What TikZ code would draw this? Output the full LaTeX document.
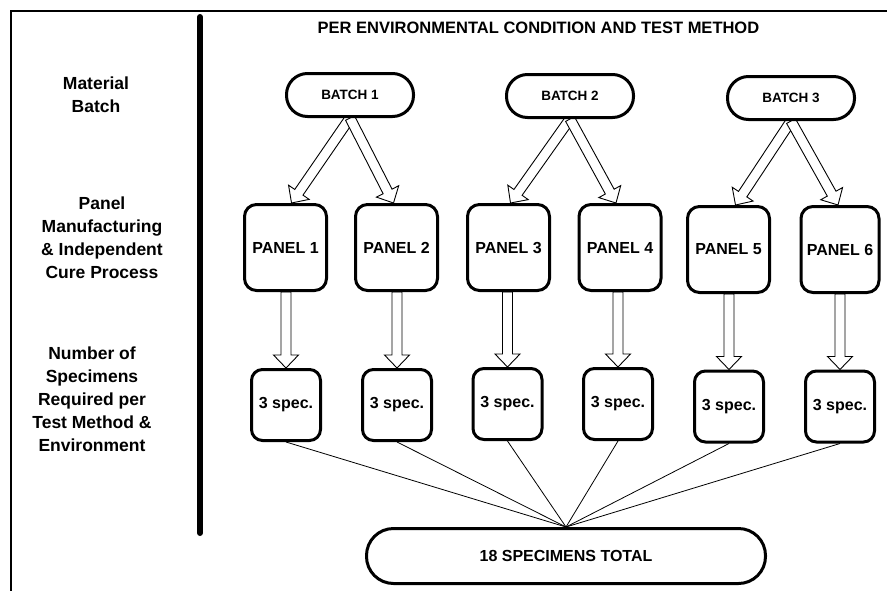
\documentclass[tikz,border=0pt]{standalone}
\usepackage{fontspec}
\setmainfont{Liberation Sans}
\usetikzlibrary{calc,backgrounds}

% hollow block arrow from #1 to #2 (tip at #2)
\newcommand\hollowarrow[2]{%
  \path[blockarrow]
    ($(#1)!5pt!-90:(#2)$) --
    ($(#2)!13pt!(#1)!5pt!90:(#1)$) --
    ($(#2)!13pt!(#1)!12.5pt!90:(#1)$) --
    (#2) --
    ($(#2)!13pt!(#1)!12.5pt!-90:(#1)$) --
    ($(#2)!13pt!(#1)!5pt!-90:(#1)$) --
    ($(#1)!5pt!90:(#2)$) -- cycle;}

\tikzset{
  box/.style={draw, line width=3pt, fill=white, inner sep=0pt, align=center,
    font=\bfseries\fontsize{16}{19}\selectfont},
  batchbox/.style={box, rounded corners=21pt, minimum width=127pt, minimum height=43pt,
    font=\bfseries\fontsize{13.5}{16}\selectfont},
  panelbox/.style={box, rounded corners=12pt, minimum width=82pt, minimum height=86pt},
  specbox/.style={box, rounded corners=11pt, minimum width=69pt, minimum height=71pt},
  totalbox/.style={box, rounded corners=27pt, minimum width=399pt, minimum height=55pt},
  rowlabel/.style={align=center, inner sep=0pt, font=\bfseries\fontsize{17.5}{23}\selectfont},
  titlelabel/.style={inner sep=0pt, font=\bfseries\fontsize{16.5}{20}\selectfont},
  blockarrow/.style={draw, line width=0.9pt, fill=white, line join=miter},
  fanline/.style={draw, line width=0.8pt},
}

\begin{document}
\begin{tikzpicture}[x=1pt, y=-1pt]
\useasboundingbox (0,0) rectangle (887,590);

% frame and column divider
\draw[line width=2pt] (887,11) -- (11,11) -- (11,592);
\draw[line width=6pt, line cap=round] (200,17) -- (200,533);

% title and row labels
\node[titlelabel] (title) at (538.5,28) {PER ENVIRONMENTAL CONDITION AND TEST METHOD};
\node[rowlabel] (lbatch) at (96,95) {Material\\Batch};
\node[rowlabel] (lpanel) at (102,238) {Panel\\Manufacturing\\\& Independent\\Cure Process};
\node[rowlabel] (lspec) at (92,399) {Number of\\Specimens\\Required per\\Test Method \&\\Environment};

% batches
\node[batchbox] (b1) at (350,95) {BATCH 1};
\node[batchbox] (b2) at (570,96) {BATCH 2};
\node[batchbox] (b3) at (791,98) {BATCH 3};

% panels
\node[panelbox] (p1) at (285.5,247.5) {PANEL 1};
\node[panelbox] (p2) at (396.5,247.5) {PANEL 2};
\node[panelbox] (p3) at (508.5,247.5) {PANEL 3};
\node[panelbox] (p4) at (620,247.5) {PANEL 4};
\node[panelbox] (p5) at (728.5,249.5) {PANEL 5};
\node[panelbox, minimum width=78pt] (p6) at (840,249.5) {PANEL 6};

% specimen groups
\node[specbox] (s1) at (286,405) {3 spec.};
\node[specbox] (s2) at (397,405) {3 spec.};
\node[specbox] (s3) at (507.5,404) {3 spec.};
\node[specbox] (s4) at (618,404) {3 spec.};
\node[specbox] (s5) at (729,406.5) {3 spec.};
\node[specbox] (s6) at (840,406.5) {3 spec.};

% total
\node[totalbox] (tot) at (566,556) {18 SPECIMENS TOTAL};

% arrow tips on the panel tops
\coordinate (t1) at ($(p1.north)+(6,0)$);
\coordinate (t2) at ($(p2.north)+(-3,0)$);
\coordinate (t3) at ($(p3.north)+(2,0)$);
\coordinate (t4) at ($(p4.north)+(-4,0)$);
\coordinate (t5) at ($(p5.north)+(7,0)$);
\coordinate (t6) at ($(p6.north)+(-2,0)$);

\begin{pgfonlayer}{background}
  \hollowarrow{b1.south}{t1}
  \hollowarrow{b1.south}{t2}
  \hollowarrow{b2.south}{t3}
  \hollowarrow{b2.south}{t4}
  \hollowarrow{b3.south}{t5}
  \hollowarrow{b3.south}{t6}
  \foreach \p/\s in {p1/s1,p2/s2,p3/s3,p4/s4,p5/s5,p6/s6}
    \hollowarrow{\p.south -| \s.north}{\s.north};
  \foreach \s in {s1,s2,s3,s4,s5,s6}
    \path[fanline] (\s.south) -- (tot.north);
\end{pgfonlayer}
\end{tikzpicture}
\end{document}
